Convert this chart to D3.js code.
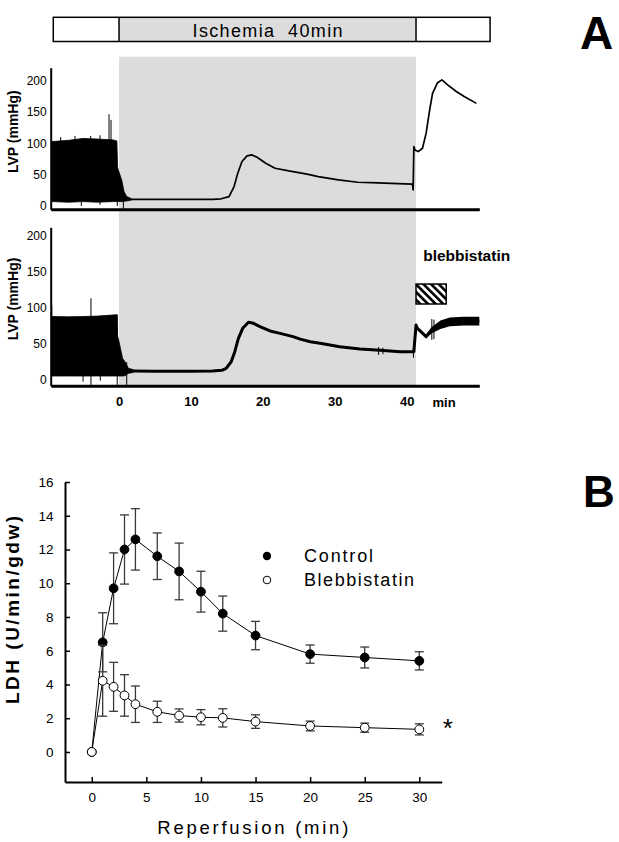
<!DOCTYPE html>
<html><head><meta charset="utf-8">
<script src="https://cdn.jsdelivr.net/npm/d3@7"></script>
<style>
body{margin:0;background:#fff}
svg{display:block}
text{font-family:"Liberation Sans",Arial,Helvetica,sans-serif;fill:#000}
</style>
</head><body>
<svg id="c" width="619" height="842"></svg>
<script>
// ---------------- Panel A data (LVP traces, mmHg vs min) ----------------
const ischemiaStart = 0, ischemiaEnd = 41.3;
const timeTicks = [0, 10, 20, 30, 40];
const lvpTicks = [0, 50, 100, 150, 200];

// Control trace: pre-ischemia beating envelope
const topBandT  = [-9.28, -7, -5, -3, -0.8, -0.3, -0.2, -0.1, 0.37, 0.7, 1.07, 1.77];
const topBandHi = [103, 105, 108, 107, 105.6, 104, 62, 57.6, 41.6, 23, 15, 11.5];
const topBandLo = [7, 6, 7, 6, 7, 7, 7, 7, 7, 7.5, 8, 9.5];
const topSpikeT  = [-9.28, -8.11, -6.12, -5.24, -3.94, -2.64, -1.39, -1.11, -0.24, 0.6];
const topSpikeLo = [7, 7, 7, 0, 7, 2, 7, 7, 0, -5];
const topSpikeHi = [103, 110, 112, 7, 112, 113, 146.6, 137.6, 60, 10];
// Control trace: ischemia + reperfusion
const topLineT = [1.77, 5, 10, 13, 14.2, 15.3, 16.0, 16.5, 17.1, 17.8, 18.5, 19.2, 20.4, 21.7, 23.6, 25.0, 26.3, 27.7, 30.5, 33.2, 36.0, 38.8, 40.8, 40.9, 41.0, 41.15, 41.6, 42.2, 42.7, 43.2, 43.6, 44.3, 44.9, 45.7, 46.9, 48.0, 49.7];
const topLineV = [10.7, 10.5, 10.5, 10.7, 11.5, 15, 31, 52, 71, 80, 81.6, 77.9, 68.3, 60.3, 56, 53.3, 50.5, 47, 41.6, 37.9, 36.8, 35.7, 35, 25.6, 95, 89.6, 86.9, 92.3, 116, 153.6, 180, 197, 201.6, 193.6, 183, 175, 164];

// Blebbistatin trace
const botBandT  = [-9.4, -7, -5, -3, -0.3, -0.2, -0.1, 0.2, 0.5, 0.83, 1.3, 2.0];
const botBandHi = [87.5, 87, 87.5, 88, 90, 60, 57, 43, 29, 24.5, 15.3, 13.5];
const botBandLo = [4.6, 4.6, 4.6, 4.6, 4.6, 4.6, 4.6, 4.6, 4.6, 5, 8.3, 9.5];
const botSpikeT  = [-9.35, -5.0, -3.9, -2.6, -0.25, 1.07, 36.1, 36.7, 40.95, 43.5, 43.8];
const botSpikeLo = [4.6, -3.3, -8, -2, -8, -8, 34, 35, 30, 55, 56];
const botSpikeHi = [102.5, 4.6, 112.8, 4.6, 90, 24, 45, 44, 43, 84, 83];
const botLineT = [2.0, 5, 10, 13, 14.3, 14.9, 15.6, 16.1, 16.6, 17.2, 18.0, 18.7, 19.6, 21.0, 22.4, 24.2, 25.2, 26.6, 27.95, 30.7, 33.5, 36.3, 39.1, 41.0, 41.3, 41.5, 42.7, 43.5, 44.7, 46.0, 47.9, 50.1];
const botLineV = [11.6, 11.2, 11.2, 11.6, 12.5, 15.3, 24.5, 38.5, 57, 71, 79.4, 78, 73.3, 67.3, 64, 59.4, 56, 52.4, 50.1, 45.4, 42.2, 40.4, 38.5, 38.5, 75.6, 71, 59.4, 69.6, 76.6, 80.2, 81.2, 81.2];
const botPostT  = [42.7, 43.5, 44.7, 46.0, 47.9, 50.1];
const botPostLo = [57, 64, 70, 74, 75, 75];
const botPostHi = [62, 73, 82, 86, 87, 87];

// ---------------- Panel B data (LDH release) ----------------
const reperfTime = [0, 1, 2, 3, 4, 6, 8, 10, 12, 15, 20, 25, 30];
const controlLDH = [0, 6.5, 9.7, 12.0, 12.6, 11.6, 10.7, 9.5, 8.2, 6.9, 5.8, 5.6, 5.4];
const controlErr = [0, 1.75, 2.1, 2.05, 1.82, 1.38, 1.68, 1.21, 1.04, 0.84, 0.54, 0.62, 0.54];
const blebbLDH   = [0, 4.22, 3.86, 3.35, 2.83, 2.38, 2.16, 2.06, 2.02, 1.8, 1.54, 1.44, 1.34];
const blebbErr   = [0, 2.1, 1.45, 1.23, 1.08, 0.63, 0.39, 0.45, 0.54, 0.4, 0.29, 0.27, 0.33];
const ldhTicks = [0, 2, 4, 6, 8, 10, 12, 14, 16];
const reperfTicks = [0, 5, 10, 15, 20, 25, 30];

// ---------------- scales ----------------
const svg = d3.select("#c");
const xA  = d3.scaleLinear().domain([-9.5, 50.1]).range([50.7, 479.3]);
const yA1 = d3.scaleLinear().domain([-5.3, 221]).range([209.3, 67.7]);
const yA2 = d3.scaleLinear().domain([-8.9, 211.7]).range([385.7, 227.3]);
const xB  = d3.scaleLinear().domain([-2.45, 32.05]).range([65, 441.7]);
const yB  = d3.scaleLinear().domain([-1.78, 16]).range([782, 482]);
const GRAY = "#dcdcdc";

// defs: hatch
const defs = svg.append("defs");
const pat = defs.append("pattern").attr("id","hatch").attr("patternUnits","userSpaceOnUse")
  .attr("width",5.4).attr("height",5.4).attr("patternTransform","rotate(-45)");
pat.append("rect").attr("width",5.4).attr("height",5.4).attr("fill","#fff");
pat.append("rect").attr("width",2.6).attr("height",5.4).attr("fill","#000");

// ---------------- Panel A ----------------
// ischemia shading
svg.append("rect").attr("x", xA(ischemiaStart)).attr("y", 56.7)
  .attr("width", xA(ischemiaEnd) - xA(ischemiaStart)).attr("height", 385.7 - 56.7).attr("fill", GRAY);

// top protocol bar
const barT0 = -9.14, barT1 = 51.6;
svg.append("rect").attr("x", xA(ischemiaStart)).attr("y", 17.3)
  .attr("width", xA(ischemiaEnd) - xA(ischemiaStart)).attr("height", 24.2).attr("fill", GRAY);
svg.append("rect").attr("x", xA(barT0)).attr("y", 17.3)
  .attr("width", xA(barT1) - xA(barT0)).attr("height", 24.2)
  .attr("fill", "none").attr("stroke", "#000").attr("stroke-width", 1.5);
[ischemiaStart, ischemiaEnd].forEach(t => svg.append("line")
  .attr("x1", xA(t)).attr("x2", xA(t)).attr("y1", 17.3).attr("y2", 41.5)
  .attr("stroke", "#000").attr("stroke-width", 1.5));
svg.append("text").attr("x", (xA(ischemiaStart) + xA(ischemiaEnd)) / 2).attr("y", 36.7)
  .attr("text-anchor", "middle").style("font-size", "18px").style("white-space", "pre")
  .attr("textLength", 150).attr("lengthAdjust", "spacing").text("Ischemia  40min");

// traces
function drawTrace(y, bandT, bandLo, bandHi, spT, spLo, spHi, lT, lV, lw) {
  const band = d3.area().x((d, i) => xA(bandT[i])).y0((d, i) => y(bandLo[i])).y1((d, i) => y(bandHi[i]));
  svg.append("path").attr("d", band(bandT)).attr("fill", "#000").attr("stroke", "#000").attr("stroke-width", 0.8);
  spT.forEach((t, i) => svg.append("line").attr("x1", xA(t)).attr("x2", xA(t))
    .attr("y1", y(spLo[i])).attr("y2", y(spHi[i])).attr("stroke", "#000").attr("stroke-width", 1));
  const line = d3.line().x((d, i) => xA(lT[i])).y((d, i) => y(lV[i]));
  svg.append("path").attr("d", line(lT)).attr("fill", "none").attr("stroke", "#000")
    .attr("stroke-width", lw).attr("stroke-linejoin", "round");
}
drawTrace(yA1, topBandT, topBandLo, topBandHi, topSpikeT, topSpikeLo, topSpikeHi, topLineT, topLineV, 1.7);
drawTrace(yA2, botBandT, botBandLo, botBandHi, botSpikeT, botSpikeLo, botSpikeHi, botLineT, botLineV, 3);
const postBand = d3.area().x((d, i) => xA(botPostT[i])).y0((d, i) => yA2(botPostLo[i])).y1((d, i) => yA2(botPostHi[i]));
svg.append("path").attr("d", postBand(botPostT)).attr("fill", "#000");

// axes panel A
function styleAxisA(g, fs, bold) {
  g.selectAll("text").style("font-size", fs).style("font-weight", bold ? "bold" : "normal")
    .style("font-family", bold ? '"Liberation Sans",Arial,sans-serif' : '"Liberation Sans Narrow","Liberation Sans",Arial,sans-serif');
  g.selectAll(".tick line").remove();
}
[[yA1, 67.7, 209.3], [yA2, 227.3, 385.7]].forEach(([y]) => {
  const g = svg.append("g").attr("transform", `translate(${xA.range()[0]},0)`)
    .call(d3.axisLeft(y).tickValues(lvpTicks).tickSize(0).tickPadding(4));
  g.select(".domain").attr("stroke-width", 2);
  styleAxisA(g, "12px", false);
});
const gx1 = svg.append("g").attr("transform", `translate(0,${yA1.range()[0]})`)
  .call(d3.axisBottom(xA).tickValues([]).tickSize(0));
gx1.select(".domain").attr("stroke-width", 3);
const gx2 = svg.append("g").attr("transform", `translate(0,${yA2.range()[0]})`)
  .call(d3.axisBottom(xA).tickValues(timeTicks).tickSize(0).tickPadding(11.5));
gx2.select(".domain").attr("stroke-width", 3);
styleAxisA(gx2, "13px", true);
svg.append("text").attr("x", xA(45.2)).attr("y", 406.7).attr("text-anchor", "middle")
  .style("font-size", "13px").style("font-weight", "bold").text("min");

// y labels panel A
[[131.7], [299]].forEach(([cy]) => svg.append("text")
  .attr("transform", `translate(17.5,${cy}) rotate(-90)`).attr("text-anchor", "middle")
  .style("font-size", "14px").style("font-weight", "bold").text("LVP (mmHg)"));

// blebbistatin annotation
svg.append("text").attr("x", xA(42.3)).attr("y", 260.7).style("font-size", "15.5px")
  .style("font-weight", "bold").text("blebbistatin");
svg.append("rect").attr("x", xA(41.3)).attr("y", yA2(132.7))
  .attr("width", xA(45.5) - xA(41.3)).attr("height", yA2(104.9) - yA2(132.7))
  .attr("fill", "url(#hatch)").attr("stroke", "#000").attr("stroke-width", 1.5);

// panel letter A
svg.append("text").attr("x", 580).attr("y", 49).style("font-size", "46px").style("font-weight", "bold").text("A");

// ---------------- Panel B ----------------
const gyB = svg.append("g").attr("transform", `translate(${xB.range()[0]},0)`)
  .call(d3.axisLeft(yB).tickValues(ldhTicks).tickSizeInner(-5).tickSizeOuter(0).tickPadding(11.5));
const gxB = svg.append("g").attr("transform", `translate(0,${yB.range()[0]})`)
  .call(d3.axisBottom(xB).tickValues(reperfTicks).tickSizeInner(-5).tickSizeOuter(0).tickPadding(10));
[gyB, gxB].forEach(g => {
  g.select(".domain").attr("stroke-width", 2);
  g.selectAll(".tick line").attr("stroke-width", 1.5);
  g.selectAll("text").style("font-size", "13.5px").style("font-family", '"Liberation Sans",Arial,sans-serif');
});

function series(vals, errs, filled) {
  const line = d3.line().x((d, i) => xB(reperfTime[i])).y((d, i) => yB(vals[i]));
  const g = svg.append("g");
  g.append("path").attr("d", line(vals)).attr("fill", "none").attr("stroke", "#000").attr("stroke-width", 1);
  vals.forEach((v, i) => {
    if (!errs[i]) return;
    const x = xB(reperfTime[i]);
    const eg = g.append("g").attr("stroke", "#3a3a3a").attr("stroke-width", 1.3);
    eg.append("line").attr("x1", x).attr("x2", x).attr("y1", yB(v - errs[i])).attr("y2", yB(v + errs[i]));
    [v - errs[i], v + errs[i]].forEach(e => eg.append("line")
      .attr("x1", x - 4.5).attr("x2", x + 4.5).attr("y1", yB(e)).attr("y2", yB(e)));
  });
  vals.forEach((v, i) => g.append("circle").attr("cx", xB(reperfTime[i])).attr("cy", yB(v))
    .attr("r", 4.4).attr("fill", filled ? "#000" : "#fff").attr("stroke", "#000").attr("stroke-width", 1));
}
series(controlLDH, controlErr, true);
series(blebbLDH, blebbErr, false);

// legend
svg.append("circle").attr("cx", 267).attr("cy", 556).attr("r", 4.2).attr("fill", "#000");
svg.append("circle").attr("cx", 267).attr("cy", 580).attr("r", 3.8).attr("fill", "#fff").attr("stroke", "#000").attr("stroke-width", 1);
svg.append("text").attr("x", 304).attr("y", 562).style("font-size", "18px")
  .attr("textLength", 69).attr("lengthAdjust", "spacing").text("Control");
svg.append("text").attr("x", 304).attr("y", 586).style("font-size", "18px")
  .attr("textLength", 110).attr("lengthAdjust", "spacing").text("Blebbistatin");

// significance mark
svg.append("text").attr("x", xB(32.6)).attr("y", 736.5).attr("text-anchor", "middle")
  .style("font-size", "26px").text("*");

// axis titles B
svg.append("text").attr("transform", "translate(19,610) rotate(-90)").attr("text-anchor", "middle")
  .style("font-size", "19px").style("font-weight", "bold")
  .attr("textLength", 188).attr("lengthAdjust", "spacing").text("LDH (U/min/gdw)");
svg.append("text").attr("x", 252.8).attr("y", 834.3).attr("text-anchor", "middle")
  .style("font-size", "18.5px").attr("textLength", 191).attr("lengthAdjust", "spacing")
  .text("Reperfusion (min)");

// panel letter B
svg.append("text").attr("x", 583).attr("y", 507).style("font-size", "44px").style("font-weight", "bold").text("B");
</script>
</body></html>
